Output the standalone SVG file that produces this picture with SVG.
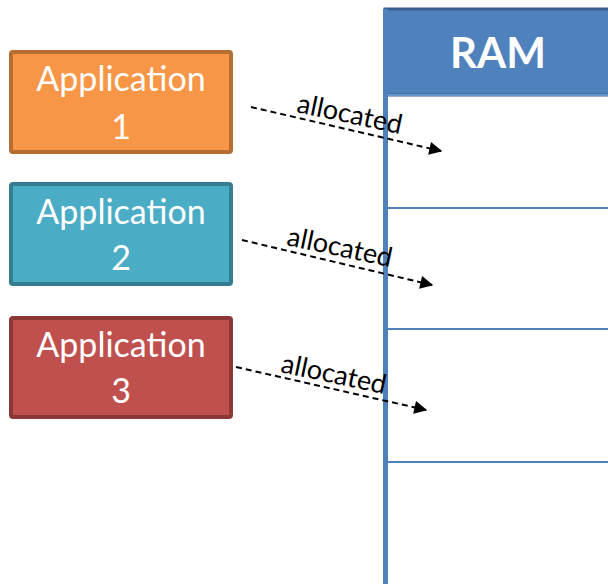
<svg xmlns="http://www.w3.org/2000/svg" width="608" height="584" viewBox="0 0 608 584">
<defs>
<style>
.app text{font-family:"Lato","Liberation Sans",sans-serif;font-size:34px;fill:#fff;text-anchor:middle}
.conn line{stroke:#000;stroke-width:2;stroke-dasharray:6,4}
.lbl{font-family:"Lato","Liberation Sans",sans-serif;font-size:27px;fill:#000;text-anchor:middle}
.div{stroke:#4f81bd;stroke-width:2}
</style>
<marker id="ah" viewBox="0 0 10 10" refX="9" refY="5" markerWidth="15" markerHeight="13" markerUnits="userSpaceOnUse" orient="auto"><path d="M0,0 L10,5 L0,10 z" fill="#000"/></marker>
</defs>
<rect width="608" height="584" fill="#fff"/>
<g id="ram">
<rect x="385" y="9" width="230" height="86" fill="#4f81bd" stroke="#3a5f8f" stroke-width="3"/>
<line x1="385" y1="95" x2="608" y2="95" stroke="#6a95c9" stroke-width="2"/>
<line x1="385.5" y1="9" x2="385.5" y2="584" stroke="#4f81bd" stroke-width="5"/>
<line class="div" x1="387" y1="208" x2="608" y2="208"/>
<line class="div" x1="387" y1="329" x2="608" y2="329"/>
<line class="div" x1="387" y1="462" x2="608" y2="462"/>
<text x="498" y="68" font-family="Lato,'Liberation Sans',sans-serif" font-weight="bold" font-size="42" fill="#fff" text-anchor="middle">RAM</text>
</g>
<g id="app1" class="app">
<rect x="11" y="52" width="220" height="100" rx="2" fill="#f79646" stroke="#b66d31" stroke-width="4"/>
<text x="121" y="91">Application</text>
<text x="121" y="139">1</text>
</g>
<g id="app2" class="app">
<rect x="11" y="184" width="220" height="100" rx="2" fill="#4bacc6" stroke="#357d91" stroke-width="4"/>
<text x="121" y="224">Application</text>
<text x="121" y="270">2</text>
</g>
<g id="app3" class="app">
<rect x="11" y="318" width="220" height="99" rx="2" fill="#c0504d" stroke="#8c3836" stroke-width="4"/>
<text x="121" y="357">Application</text>
<text x="121" y="403">3</text>
</g>
<g id="connectors" class="conn">
<line x1="251" y1="107" x2="441" y2="151" marker-end="url(#ah)"/>
<line x1="242" y1="240" x2="432" y2="285" marker-end="url(#ah)"/>
<line x1="236" y1="367" x2="426" y2="410" marker-end="url(#ah)"/>
<text class="lbl" transform="translate(348,123) rotate(12)">allocated</text>
<text class="lbl" transform="translate(338,256) rotate(12)">allocated</text>
<text class="lbl" transform="translate(332,383) rotate(12)">allocated</text>
</g>
</svg>
